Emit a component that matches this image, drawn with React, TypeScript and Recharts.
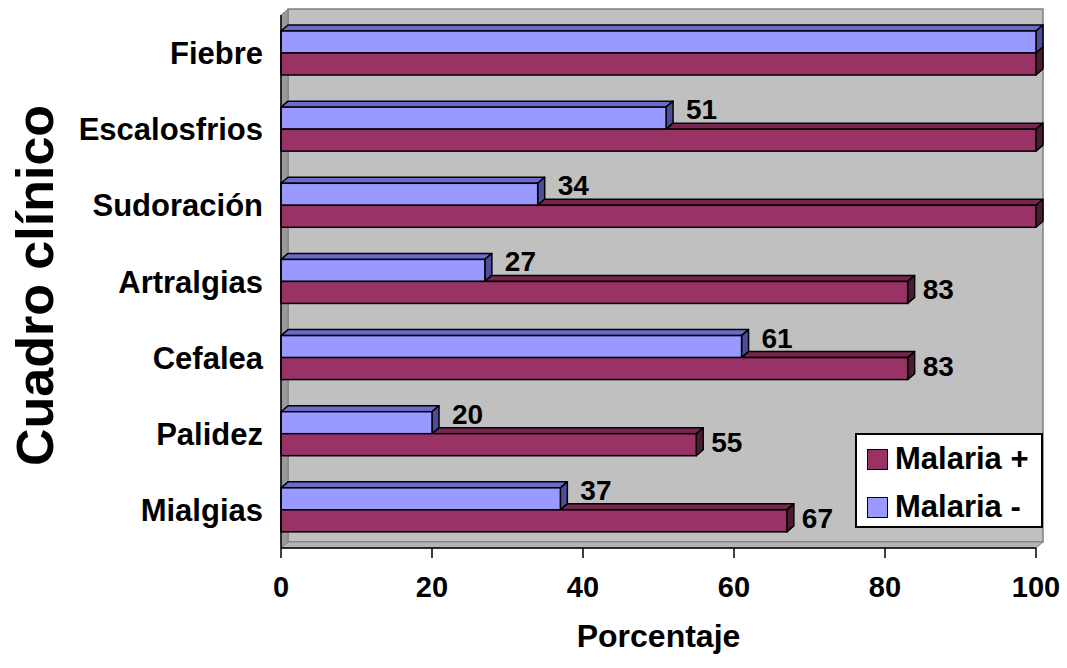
import React from 'react';
import { BarChart, Bar, XAxis, YAxis, LabelList, Legend } from 'recharts';

// ---------- data ----------
const categories = ['Fiebre', 'Escalosfrios', 'Sudoración', 'Artralgias', 'Cefalea', 'Palidez', 'Mialgias'];
const malariaPos = [100, 100, 100, 83, 83, 55, 67];
const malariaNeg = [100, 51, 34, 27, 61, 20, 37];
const labelsPos: (number | null)[] = [null, null, null, 83, 83, 55, 67];
const labelsNeg: (number | null)[] = [null, 51, 34, 27, 61, 20, 37];
const xTicks = [0, 20, 40, 60, 80, 100];
const posName = 'Malaria +';
const negName = 'Malaria -';
const xTitle = 'Porcentaje';
const yTitle = 'Cuadro clínico';

// ---------- layout / style ----------
const W = 1067;
const H = 668;
const PT = 15;
const PR = 31;
const YW = 281;
const XH = 120;
const PL = YW;
const PB = H - XH;
const PRX = W - PR;
const DX = 7;
const DY = 6;
const FONT = "'Liberation Sans', Arial, Helvetica, sans-serif";
const POS_C = { front: '#993366', top: '#74264D', side: '#4D1A33' };
const NEG_C = { front: '#9999FF', top: '#6B6BCC', side: '#4D4D99' };

const data = categories.map((c, i) => ({ name: c, pos: malariaPos[i], neg: malariaNeg[i] }));
const gridTicks = Array.from({ length: categories.length + 1 }, (_, i) => i);

function Box3D(x: number, y: number, w: number, h: number, c: typeof POS_C, topFrom: number | null) {
  const sw = 1.5;
  const tf = topFrom == null ? x : topFrom;
  return (
    <g>
      {tf < x + w && (
        <polygon
          points={`${tf},${y} ${tf + DX},${y - DY} ${x + w + DX},${y - DY} ${x + w},${y}`}
          fill={c.top}
          stroke="#000"
          strokeWidth={sw}
          strokeLinejoin="round"
        />
      )}
      <polygon
        points={`${x + w},${y} ${x + w + DX},${y - DY} ${x + w + DX},${y + h - DY} ${x + w},${y + h}`}
        fill={c.side}
        stroke="#000"
        strokeWidth={sw}
        strokeLinejoin="round"
      />
      <rect x={x} y={y} width={w} height={h} fill={c.front} stroke="#000" strokeWidth={sw} />
    </g>
  );
}

const NegShape = (p: any) => {
  if (!p.width) return <g />;
  return Box3D(p.x, p.y, p.width, p.height, NEG_C, null);
};

const PosShape = (p: any) => {
  if (!p.width) return <g />;
  const pay = p.payload || {};
  const unit = p.width / pay.pos;
  const blueEnd = p.x + pay.neg * unit;
  return Box3D(p.x, p.y, p.width, p.height, POS_C, Math.max(p.x, blueEnd));
};

const makeLabel = (labels: (number | null)[], offX: number, offY: number) => (p: any) => {
  const v = labels[p.index];
  if (v == null) return null;
  const cy = p.y + p.height / 2 + offY;
  return (
    <text
      x={p.x + p.width + offX}
      y={cy + 10}
      fontFamily={FONT}
      fontWeight={700}
      fontSize={28}
      fill="#000"
      textAnchor="start"
    >
      {v}
    </text>
  );
};

const YLabel = (p: any) => {
  const vb = p.viewBox || { x: 0, y: PT, height: PB - PT };
  const cx = 53;
  const cy = vb.y + vb.height / 2 + 4;
  return (
    <text
      x={cx}
      y={cy}
      transform={`rotate(-90 ${cx} ${cy})`}
      textAnchor="middle"
      fontFamily={FONT}
      fontWeight={700}
      fontSize={52}
      fill="#000"
    >
      {yTitle}
    </text>
  );
};

const LegendBox = () => {
  const item = (name: string, color: string, top: number) => (
    <div style={{ position: 'absolute', left: 10, top, height: 24, display: 'flex', alignItems: 'center' }}>
      <div style={{ width: 19, height: 19, background: color, border: '1.5px solid #000', marginRight: 7 }} />
      <span style={{ fontFamily: FONT, fontWeight: 700, fontSize: 31, color: '#000', lineHeight: '24px', whiteSpace: 'nowrap' }}>
        {name}
      </span>
    </div>
  );
  return (
    <div
      style={{
        position: 'relative',
        boxSizing: 'border-box',
        width: 188,
        height: 95,
        border: '2px solid #000',
        background: '#fff',
      }}
    >
      {item(posName, POS_C.front, 12)}
      {item(negName, NEG_C.front, 60)}
    </div>
  );
};

export default function App() {
  const axisStroke = { stroke: '#000', strokeWidth: 1.5 };
  const yTickStyle = { fill: '#000', fontSize: 31, fontWeight: 700, fontFamily: FONT };
  const xTickStyle = { fill: '#000', fontSize: 29, fontWeight: 700, fontFamily: FONT };
  return (
    <div style={{ position: 'absolute', left: 0, top: 0, width: W, height: H, background: '#fff' }}>
      <svg width={W} height={H} style={{ position: 'absolute', left: 0, top: 0 }}>
        {/* back wall */}
        <rect x={PL + DX} y={PT - DY} width={PRX - PL} height={PB - PT} fill="#C0C0C0" stroke="#808080" strokeWidth={1.5} />
        {/* left wall */}
        <polygon
          points={`${PL},${PT} ${PL + DX},${PT - DY} ${PL + DX},${PB - DY} ${PL},${PB}`}
          fill="#9A9A9A"
          stroke="#808080"
          strokeWidth={1}
        />
        {/* floor */}
        <polygon
          points={`${PL},${PB} ${PL + DX},${PB - DY} ${PRX + DX},${PB - DY} ${PRX},${PB}`}
          fill="#B4B4B4"
          stroke="#808080"
          strokeWidth={1}
        />
      </svg>
      <div style={{ position: 'absolute', left: 0, top: 0 }}>
        <BarChart
          width={W}
          height={H}
          data={data}
          layout="vertical"
          margin={{ top: PT, right: PR, bottom: 0, left: 0 }}
          barSize={22}
          barGap={0}
        >
          <YAxis
            yAxisId="grid"
            type="number"
            domain={[0, categories.length]}
            ticks={gridTicks}
            width={0}
            tickSize={13}
            tickFormatter={() => ''}
            axisLine={false}
            tickLine={axisStroke}
            allowDataOverflow
          />
          <YAxis
            yAxisId="cat"
            type="category"
            dataKey="name"
            width={YW}
            tickSize={13}
            tickMargin={5}
            tickLine={false}
            axisLine={axisStroke}
            tick={yTickStyle}
            interval={0}
            label={{ content: YLabel }}
          />
          <XAxis
            type="number"
            domain={[0, 100]}
            ticks={xTicks}
            height={XH}
            tickSize={10}
            tickMargin={18}
            axisLine={axisStroke}
            tickLine={axisStroke}
            tick={xTickStyle}
            interval={0}
            label={{
              value: xTitle,
              position: 'insideBottom',
              offset: 21,
              style: { fill: '#000', fontSize: 32, fontWeight: 700, fontFamily: FONT },
            }}
          />
          <Bar yAxisId="cat" dataKey="neg" name={negName} fill={NEG_C.front} shape={NegShape} isAnimationActive={false}>
            <LabelList dataKey="neg" content={makeLabel(labelsNeg, 20, -9)} />
          </Bar>
          <Bar yAxisId="cat" dataKey="pos" name={posName} fill={POS_C.front} shape={PosShape} isAnimationActive={false}>
            <LabelList dataKey="pos" content={makeLabel(labelsPos, 15, -3)} />
          </Bar>
          <Legend
            layout="vertical"
            align="center"
            verticalAlign="middle"
            wrapperStyle={{ position: 'absolute', left: 855, top: 433, width: 188, height: 95 }}
            content={() => <LegendBox />}
          />
        </BarChart>
      </div>
    </div>
  );
}
